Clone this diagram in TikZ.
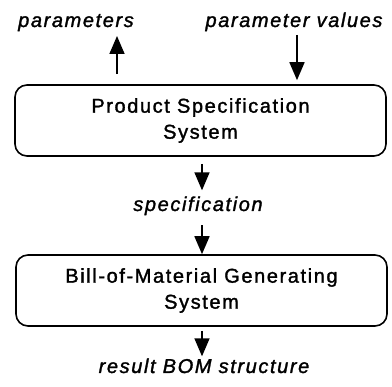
\documentclass[tikz,border=0pt]{standalone}
\usepackage{fontspec}
\setmainfont{Liberation Sans}[LetterSpace=8, FakeBold=1.5]
\usetikzlibrary{arrows.meta}
\tikzset{
  sysbox/.style={draw, line width=1.6pt, rounded corners=12pt,
    minimum width=371pt, minimum height=71pt, inner sep=0pt,
    align=center, font=\fontsize{20}{26}\selectfont},
  flowlabel/.style={anchor=base, inner sep=0pt,
    font=\fontsize{20}{24}\selectfont\itshape},
  flow/.style={line width=1.6pt, -{Triangle[width=15pt,length=18pt]}}
}
\begin{document}
\begin{tikzpicture}[x=1pt,y=-1pt]
  \useasboundingbox (0,0) rectangle (392,387);

  % the two systems
  \node[sysbox] (pss) at (200.5,120.5) {Product Specification\\System};
  \node[sysbox] (bom) at (201.5,290.5) {Bill-of-Material Generating\\System};

  % data flowing in and out
  \node[flowlabel] (params) at (76,27) {parameters};
  \node[flowlabel] (values) at (294,27) {parameter values};
  \node[flowlabel] (spec) at (198,211) {specification};
  \node[flowlabel] (result) at (204,373) {result BOM structure};

  \coordinate (paramsTip) at (117,36);
  \coordinate (valuesTop) at (297,35);
  \coordinate (flowX) at (202,0);

  \draw[flow, shorten <=10pt] (pss.north -| paramsTip) -- (paramsTip);
  \draw[flow, shorten >=4pt] (valuesTop) -- (pss.north -| valuesTop);
  \draw[flow, shorten <=7pt, shorten >=6pt] (pss.south -| flowX) -- (spec.north -| flowX);
  \draw[flow, shorten <=10pt] (spec.south -| flowX) -- (bom.north -| flowX);
  \draw[flow, shorten <=4pt, shorten >=2pt] (bom.south -| flowX) -- (result.north -| flowX);
\end{tikzpicture}
\end{document}
